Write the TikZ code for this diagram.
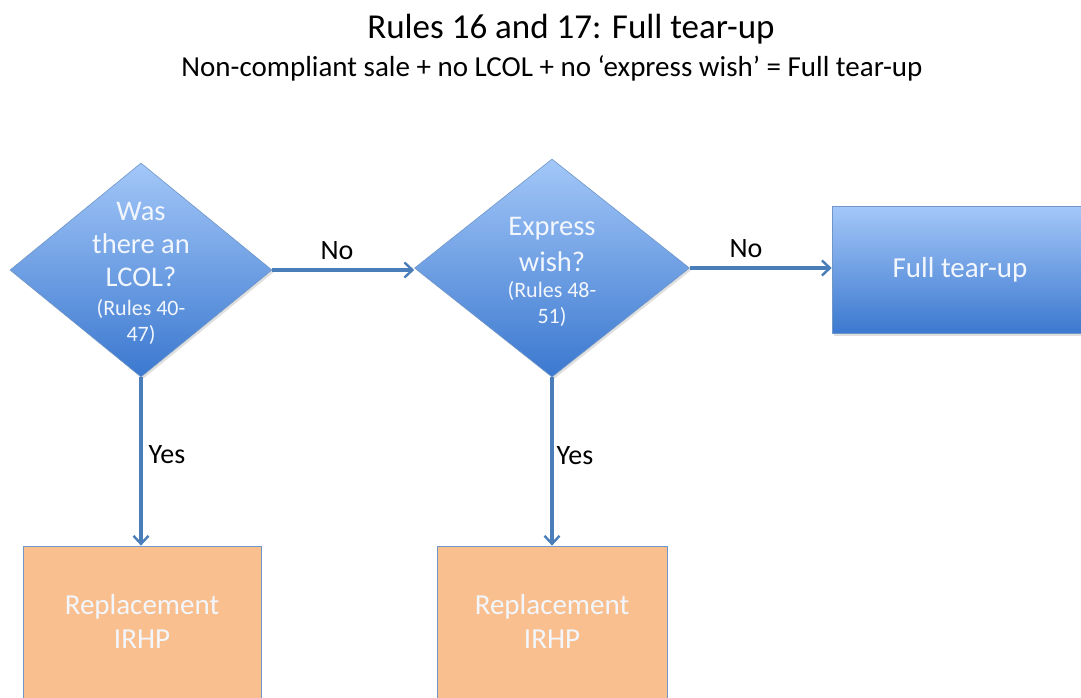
\documentclass[tikz,border=0pt]{standalone}
\usepackage{fontspec}
\setmainfont{Carlito}
\usetikzlibrary{shapes.geometric,arrows.meta,shadows}
\definecolor{arrowblue}{HTML}{4A7EBB}
\definecolor{lightblue}{HTML}{A3C7F8}
\definecolor{darkblue}{HTML}{3B78CF}
\definecolor{orangefill}{HTML}{F9BF8F}
\definecolor{bordblue}{HTML}{6F96C8}
\definecolor{paletext}{HTML}{F2F6FD}
\begin{document}
\begin{tikzpicture}[x=1pt,y=-1pt,
  decision/.style={diamond, draw=bordblue, line width=0.6pt, top color=lightblue, bottom color=darkblue,
    inner sep=0pt, drop shadow={opacity=0.25, shadow xshift=2pt, shadow yshift=-2pt}},
  bluebox/.style={rectangle, draw=bordblue, line width=0.6pt, top color=lightblue, bottom color=darkblue,
    inner sep=0pt, drop shadow={opacity=0.25, shadow xshift=2pt, shadow yshift=-2pt}},
  orangebox/.style={rectangle, draw=bordblue, line width=0.8pt, fill=orangefill, inner sep=0pt},
  bigtxt/.style={text=paletext, align=center, font=\fontsize{28.5}{33}\selectfont},
  bigtxtb/.style={text=paletext, align=center, font=\fontsize{28.5}{36}\selectfont},
  smalltxt/.style={text=paletext, align=center, font=\fontsize{22}{25.5}\selectfont},
  boxtxt/.style={text=paletext, align=center, font=\fontsize{29}{34}\selectfont},
  lbl/.style={text=black, font=\fontsize{28}{32}\selectfont},
  conn/.style={draw=arrowblue, line width=3.2pt, -{Straight Barb[length=8pt,width=15pt,line width=2.4pt]}}
]
\useasboundingbox (0,0) rectangle (1081,697);
\fill[white] (0,0) rectangle (1081,697);

% titles
\node (title) at (571,29) {\fontsize{35}{40}\selectfont Rules 16 and 17: Full tear-up};
\node (subtitle) at (552,68) {\fontsize{29}{34}\selectfont Non-compliant sale + no LCOL + no ‘express wish’ = Full tear-up};

% decisions
\node[decision, minimum width=262pt, minimum height=214pt] (d1) at (141,270) {};
\node[bigtxt] (d1a) at (141,244) {Was\\there an\\LCOL?};
\node[smalltxt] (d1b) at (141,322) {(Rules 40-\\47)};

\node[decision, minimum width=275pt, minimum height=218pt] (d2) at (552,268) {};
\node[bigtxtb] (d2a) at (552,244) {Express\\wish?};
\node[smalltxt] (d2b) at (552,304) {(Rules 48-\\51)};

% full tear-up
\node[bluebox, minimum width=256pt, minimum height=127pt] (ft) at (960,270) {};
\node[boxtxt] (fttxt) at (ft.center) {Full tear-up};

% orange boxes
\node[orangebox, minimum width=238pt, minimum height=156pt] (r1) at (142,624) {};
\node[boxtxt] (r1txt) at (142,621) {Replacement\\IRHP};
\node[orangebox, minimum width=230pt, minimum height=156pt] (r2) at (552,624) {};
\node[boxtxt] (r2txt) at (552,621) {Replacement\\IRHP};

% connectors
\draw[conn] (d1.east) -- (d2.west |- d1.east);
\draw[conn] (d2.east) -- (ft.west |- d2.east);
\draw[conn] (d1.south) -- (r1.north -| d1.south);
\draw[conn] (d2.south) -- (r2.north -| d2.south);

% labels
\node[lbl] (no1) at (337,251) {No};
\node[lbl] (no2) at (746,249) {No};
\node[lbl] (yes1) at (167,455) {Yes};
\node[lbl] (yes2) at (575,456) {Yes};
\end{tikzpicture}
\end{document}
